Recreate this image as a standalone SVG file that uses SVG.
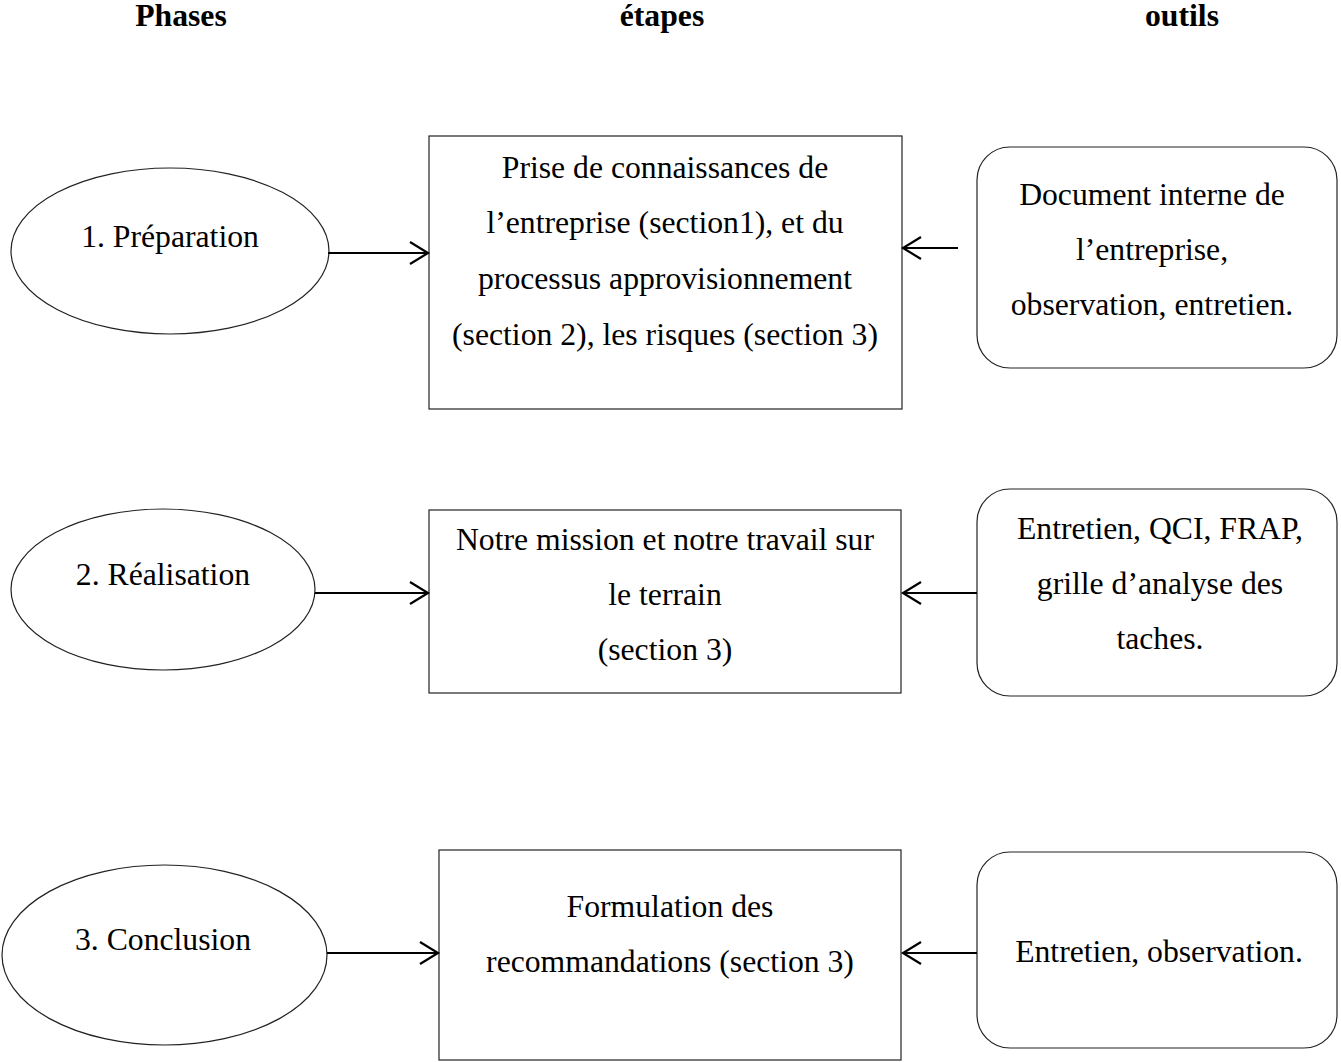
<svg xmlns="http://www.w3.org/2000/svg" width="1341" height="1062" viewBox="0 0 1341 1062">
<style>
  text { font-family: "Liberation Serif", "Times New Roman", serif; font-size: 31.7px; fill: #000; text-anchor: middle; }
  .hdr { font-weight: bold; }
  .shape { fill: #fff; stroke: #222; stroke-width: 1.2; }
  .conn { fill: none; stroke: #000; stroke-width: 2.2; }
</style>
<defs>
  <marker id="chev" viewBox="-20 -13 23 26" markerWidth="23" markerHeight="26" refX="0" refY="0" orient="auto" markerUnits="userSpaceOnUse">
    <path d="M -18 -11 L 0 0 L -18 11" fill="none" stroke="#000" stroke-width="2.2"/>
  </marker>
</defs>
<rect width="1341" height="1062" fill="#fff"/>

<g id="headers">
  <text class="hdr" x="181" y="26">Phases</text>
  <text class="hdr" x="662" y="26">étapes</text>
  <text class="hdr" x="1182" y="26">outils</text>
</g>

<g id="phase1">
  <ellipse class="shape" cx="170" cy="251" rx="159" ry="83"/>
  <text x="170" y="247">1. Préparation</text>
</g>
<g id="etape1">
  <rect class="shape" x="429" y="136" width="473" height="273"/>
  <text x="665" y="178">Prise de connaissances de</text>
  <text x="665" y="233">l’entreprise (section1), et du</text>
  <text x="665" y="289">processus approvisionnement</text>
  <text x="665" y="345">(section 2), les risques (section 3)</text>
</g>
<g id="outil1">
  <rect class="shape" x="977" y="147" width="360" height="221" rx="33" ry="33"/>
  <text x="1152" y="205">Document interne de</text>
  <text x="1152" y="260">l’entreprise,</text>
  <text x="1152" y="315">observation, entretien.</text>
</g>

<g id="phase2">
  <ellipse class="shape" cx="163" cy="589.5" rx="152" ry="80.5"/>
  <text x="163" y="585">2. Réalisation</text>
</g>
<g id="etape2">
  <rect class="shape" x="429" y="510" width="472" height="183"/>
  <text x="665" y="550">Notre mission et notre travail sur</text>
  <text x="665" y="605">le terrain</text>
  <text x="665" y="660">(section 3)</text>
</g>
<g id="outil2">
  <rect class="shape" x="977" y="489" width="360" height="207" rx="33" ry="33"/>
  <text x="1160" y="539">Entretien, QCI, FRAP,</text>
  <text x="1160" y="594">grille d’analyse des</text>
  <text x="1160" y="649">taches.</text>
</g>

<g id="phase3">
  <ellipse class="shape" cx="164.5" cy="955" rx="162.5" ry="90"/>
  <text x="163" y="950">3. Conclusion</text>
</g>
<g id="etape3">
  <rect class="shape" x="439" y="850" width="462" height="210"/>
  <text x="670" y="917">Formulation des</text>
  <text x="670" y="972">recommandations (section 3)</text>
</g>
<g id="outil3">
  <rect class="shape" x="977" y="852" width="360" height="196" rx="33" ry="33"/>
  <text x="1159" y="962">Entretien, observation.</text>
</g>

<g id="connectors">
  <line class="conn" x1="328" y1="253" x2="428" y2="253" marker-end="url(#chev)"/>
  <line class="conn" x1="958" y1="248" x2="903" y2="248" marker-end="url(#chev)"/>
  <line class="conn" x1="315" y1="593" x2="428" y2="593" marker-end="url(#chev)"/>
  <line class="conn" x1="977" y1="593" x2="903" y2="593" marker-end="url(#chev)"/>
  <line class="conn" x1="327" y1="953" x2="438" y2="953" marker-end="url(#chev)"/>
  <line class="conn" x1="977" y1="953" x2="903" y2="953" marker-end="url(#chev)"/>
</g>
</svg>
